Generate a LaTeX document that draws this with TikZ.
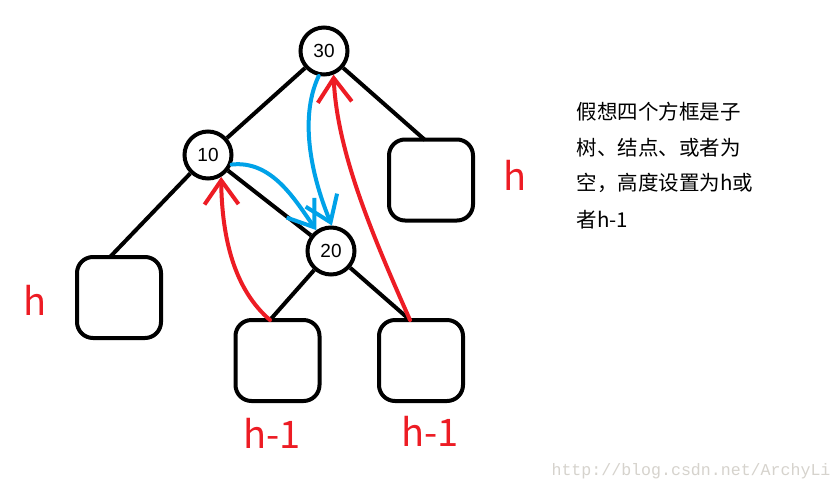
\documentclass[tikz,border=0pt]{standalone}
\usepackage{fontspec}
\setmainfont{Liberation Sans}
\newfontfamily\cjk{Noto Sans CJK SC}
\newfontfamily\wmfont{Liberation Mono}
\usetikzlibrary{arrows.meta}
\definecolor{pred}{RGB}{237,28,36}
\definecolor{pblue}{RGB}{0,162,232}
\definecolor{wmgray}{RGB}{214,211,205}
\begin{document}
\begin{tikzpicture}[x=1pt,y=-1pt,
  treenode/.style={circle,draw,line width=4pt,minimum size=47pt,inner sep=0pt,font=\fontsize{19}{19}\selectfont},
  sub/.style={draw,line width=4pt,rounded corners=16pt,minimum width=84pt,minimum height=81pt,inner sep=0pt},
  edge/.style={line width=4pt},
  parr/.style={line width=4pt,line cap=round,-{Straight Barb[length=24pt 0,width=34pt 0]}},
  hlab/.style={text=pred,font=\cjk\fontsize{38}{38}\selectfont,anchor=base},
  note/.style={anchor=base west,font=\cjk\fontsize{20.5}{20.5}\selectfont}
]
\useasboundingbox (0,0) rectangle (840,491);
\fill[white] (0,0) rectangle (840,491);

\node[treenode] (n30) at (324,51) {30};
\node[treenode] (n10) at (208,155) {10};
\node[treenode] (n20) at (331,251) {20};
\node[sub] (rb) at (431,180) {};
\node[sub] (lb) at (119,297.5) {};
\node[sub] (b1) at (277.5,360.5) {};
\node[sub] (b2) at (421,360.5) {};

\coordinate (rbt) at (425,140);
\coordinate (lbt) at (110,257);
\coordinate (b1t) at (270,320);
\coordinate (b2t) at (410,320);

\draw[edge] (n30) -- (n10);
\draw[edge] (n30) -- (rbt);
\draw[edge] (n10) -- (lbt);
\draw[edge] (n10) -- (n20);
\draw[edge] (n20) -- (b1t);
\draw[edge] (n20) -- (b2t);

\draw[parr,pblue] (n30.-102) .. controls (298,120) and (313,180) .. (n20.88);
\draw[parr,pblue] (n10.-22) .. controls (272,160) and (295,200) .. (n20.125);
\draw[parr,pred] (b1t) .. controls (235,290) and (222,240) .. (n10.-59);
\draw[parr,pred] (b2t) .. controls (370,230) and (337,150) .. (n30.-68);

\node[hlab] (hl) at (35,315) {h};
\node[hlab] (hr) at (515,190) {h};
\node[hlab] (h1) at (272,448) {h-1};
\node[hlab] (h2) at (430,446) {h-1};

\node[note] (t1) at (573,119) {假想四个方框是子};
\node[note] (t2) at (573,155) {树、结点、或者为};
\node[note] (t3) at (573,190) {空，高度设置为h或};
\node[note] (t4) at (573,227) {者h-1};

\node[anchor=base west,text=wmgray,font=\wmfont\fontsize{16.6}{16.6}\selectfont] (wm) at (548,475) {http://blog.csdn.net/ArchyLi};
\end{tikzpicture}
\end{document}
